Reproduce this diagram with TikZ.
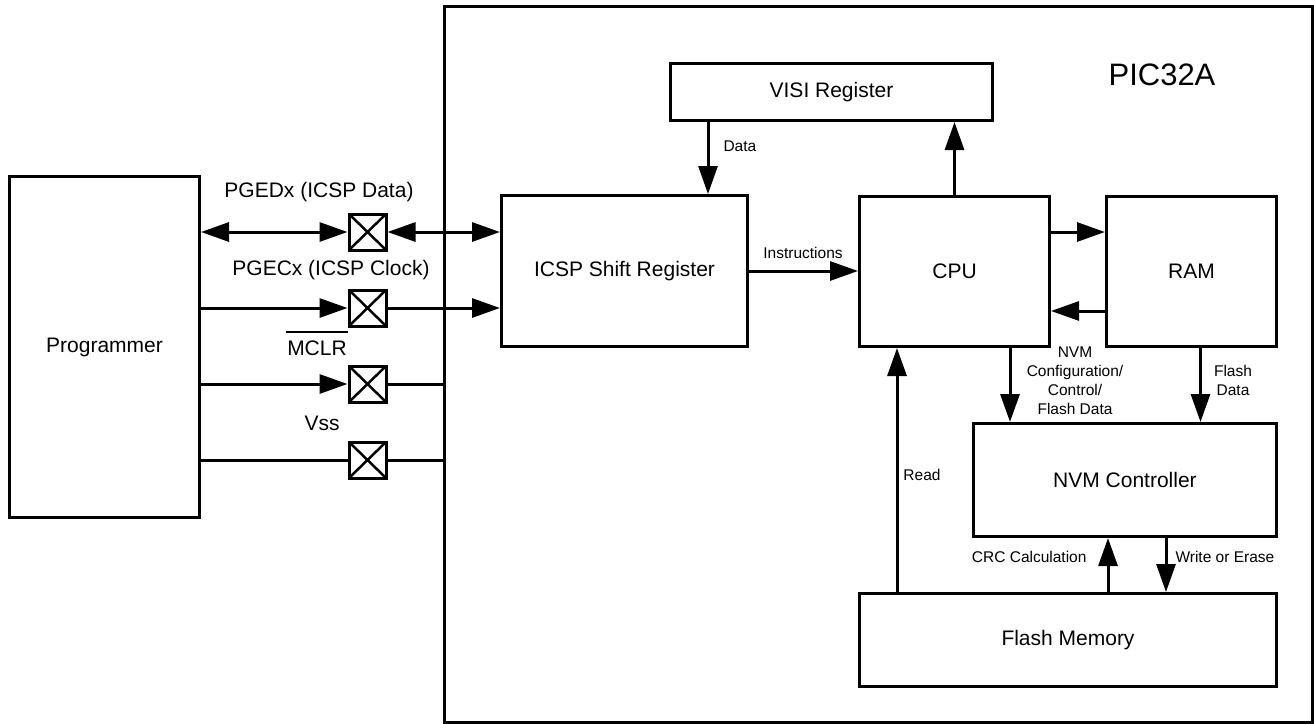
\documentclass[tikz,border=0pt]{standalone}
\usepackage{fontspec}
\setmainfont{Liberation Sans}
\usetikzlibrary{arrows.meta}

\begin{document}
\begin{tikzpicture}[x=1pt,y=-1pt,
  line width=3pt,
  box/.style={draw, line width=3pt, inner sep=0pt, anchor=north west,
    font=\fontsize{21}{25}\selectfont},
  lbl/.style={inner sep=0pt, font=\fontsize{21}{25}\selectfont},
  small/.style={inner sep=0pt, font=\fontsize{15.5}{19}\selectfont, align=center},
  pinbox/.style={draw, line width=3pt, minimum width=37pt, minimum height=36pt,
    inner sep=0pt,
    path picture={\draw[line width=2.5pt]
      (path picture bounding box.north west) -- (path picture bounding box.south east)
      (path picture bounding box.north east) -- (path picture bounding box.south west);}},
  arr/.style={-{Triangle[length=28pt,width=19pt]}},
  darr/.style={{Triangle[length=28pt,width=19pt]}-{Triangle[length=28pt,width=19pt]}},
]
\useasboundingbox (0,0) rectangle (1314,723);

% device outline
\node[box, minimum width=868pt, minimum height=716pt] (chip) at (443,5) {};
\node[lbl, font=\fontsize{31}{36}\selectfont] (chipname) at (1162,75) {PIC32A};

% external programmer
\node[box, minimum width=190pt, minimum height=341pt] (prog) at (8,175) {Programmer};

% pins
\node[pinbox] (p1) at (367.5,232) {};
\node[pinbox] (p2) at (367.5,308) {};
\node[pinbox] (p3) at (367.5,384) {};
\node[pinbox] (p4) at (367.5,460) {};

\node[lbl] (l1) at (319,192) {PGEDx (ICSP Data)};
\node[lbl] (l2) at (331,270) {PGECx (ICSP Clock)};
\node[lbl] (l3) at (317,348) {MCLR};
\draw[line width=1.5pt] ([yshift=7pt]l3.north west) -- ([yshift=7pt]l3.north east);
\node[lbl] (l4) at (322,423) {Vss};

% internal blocks
\node[box, minimum width=246pt, minimum height=151pt] (icsp) at (500,194) {ICSP Shift Register};
\node[box, minimum width=322pt, minimum height=57pt] (visi) at (669,62) {VISI Register};
\node[box, minimum width=190pt, minimum height=150pt] (cpu) at (858,195) {CPU};
\node[box, minimum width=170pt, minimum height=150pt] (ram) at (1105,195) {RAM};
\node[box, minimum width=303pt, minimum height=113pt] (nvm) at (972,422) {NVM Controller};
\node[box, minimum width=417pt, minimum height=93pt] (flash) at (858,592) {Flash Memory};

% pin connections
\draw[darr] (p1 -| prog.east) -- (p1.west);
\draw[darr] (p1.east) -- (p1 -| icsp.west);
\draw[arr] (p2 -| prog.east) -- (p2.west);
\draw[arr] (p2.east) -- (p2 -| icsp.west);
\draw[arr] (p3 -| prog.east) -- (p3.west);
\draw (p3.east) -- (p3 -| chip.west);
\draw (p4 -| prog.east) -- (p4.west);
\draw (p4.east) -- (p4 -| chip.west);

% internal data paths
\draw[arr] ([xshift=39pt]visi.south west) -- ([xshift=39pt]visi.south west |- icsp.north);
\draw[arr] (cpu.north) -- (cpu.north |- visi.south);
\draw[arr] (icsp.east) -- (icsp.east -| cpu.west);
\draw[arr] ([yshift=-37pt]cpu.north east) -- ([yshift=-37pt]cpu.north east -| ram.west);
\draw[arr] ([yshift=37pt]ram.south west) -- ([yshift=37pt]ram.south west -| cpu.east);
\draw[arr] ([xshift=38pt]nvm.north west |- cpu.south) -- ([xshift=38pt]nvm.north west);
\draw[arr] ([xshift=9pt]ram.south) -- ([xshift=9pt]ram.south |- nvm.north);
\draw[arr] ([xshift=39pt]flash.north west) -- ([xshift=39pt]flash.north west |- cpu.south);
\draw[arr] ([xshift=136pt]nvm.south west |- flash.north) -- ([xshift=136pt]nvm.south west);
\draw[arr] ([xshift=194pt]nvm.south west) -- ([xshift=194pt]nvm.south west |- flash.north);

% path labels
\node[small, anchor=west] (datalbl) at (722,146) {Data};
\node[small] (instrlbl) at (803,253) {Instructions};
\node[small] (nvmlbl) at (1075,381) {NVM\\Configuration/\\Control/\\Flash Data};
\node[small] (fdlbl) at (1233,380) {Flash\\Data};
\node[small] (readlbl) at (922,475) {Read};
\node[small, anchor=east] (crclbl) at (1088,557) {CRC Calculation};
\node[small, anchor=west] (wrlbl) at (1174,557) {Write or Erase};
\end{tikzpicture}
\end{document}
